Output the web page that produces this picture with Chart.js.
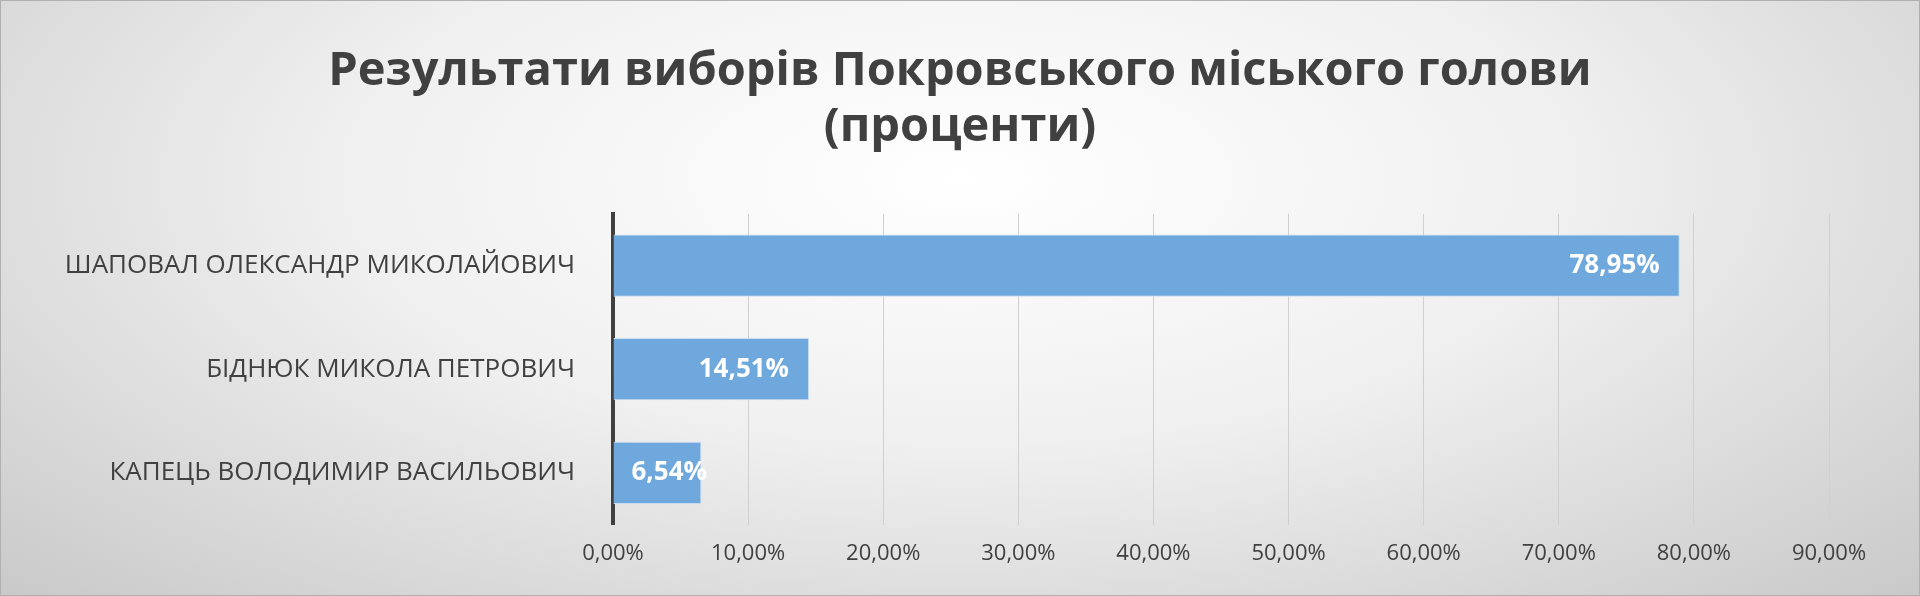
<!DOCTYPE html>
<html><head><meta charset="utf-8">
<script src="https://cdn.jsdelivr.net/npm/chart.js@4/dist/chart.umd.min.js"></script>
<style>
html,body{margin:0;padding:0;}
body{width:1920px;height:596px;background:radial-gradient(ellipse at 50% 30%,#ffffff 0%,#f0f0f0 45%,#c9c9c9 100%);}
#wrap{position:absolute;left:0;top:0;width:1918px;height:594px;border:1px solid #b0b0b0;}
</style></head>
<body><div id="wrap"><canvas id="c" width="1918" height="594"></canvas></div>
<script>
const candidates = ['ШАПОВАЛ ОЛЕКСАНДР МИКОЛАЙОВИЧ', 'БІДНЮК МИКОЛА ПЕТРОВИЧ', 'КАПЕЦЬ ВОЛОДИМИР ВАСИЛЬОВИЧ'];
const percents = [78.95, 14.51, 6.54];
const xTicks = [0, 10, 20, 30, 40, 50, 60, 70, 80, 90];

const fmt = v => v.toFixed(2).replace('.', ',') + '%';

const valueLabels = {
    id: 'valueLabels',
    afterDatasetsDraw(chart) {
        const ctx = chart.ctx;
        ctx.save();
        ctx.font = 'bold 26px "Open Sans"';
        ctx.fillStyle = '#ffffff';
        ctx.textBaseline = 'middle';
        chart.getDatasetMeta(0).data.forEach((bar, i) => {
            const t = fmt(percents[i]);
            const w = ctx.measureText(t).width;
            let x = bar.x - 20 - w;
            if (x < bar.base + 18) x = bar.base + 18;
            ctx.textAlign = 'left';
            ctx.fillText(t, x, bar.y);
        });
        ctx.restore();
    }
};

// center the title on the whole canvas, not just the padded area
const centerTitle = {
    id: 'centerTitle',
    afterLayout(chart) {
        const t = chart.titleBlock;
        t.left = 0; t.right = chart.width; t.width = chart.width;
    }
};

new Chart(document.getElementById('c'), {
    type: 'bar',
    data: {
        labels: candidates,
        datasets: [{ data: percents, backgroundColor: '#6fa8dc', borderColor: '#c9ddf0', borderWidth: 1, barPercentage: 0.6, categoryPercentage: 1 }]
    },
    options: {
        indexAxis: 'y', responsive: false, animation: false,
        layout: { padding: { left: 20, right: 90, top: 42, bottom: 12 } },
        plugins: {
            legend: { display: false }, tooltip: { enabled: false },
            title: { display: true, text: ['Результати виборів Покровського міського голови', '(проценти)'],
                font: { family: '"Open Sans"', size: 47, weight: 'bold' }, color: '#404040', lineHeight: 1.42, padding: { top: 0, bottom: 58 } }
        },
        scales: {
            x: { min: 0, max: 90, afterBuildTicks: a => { a.ticks = xTicks.map(v => ({ value: v })); },
                grid: { color: '#d0d0d0', drawTicks: false }, border: { display: false },
                ticks: { callback: v => fmt(v), color: '#404040', font: { family: '"Open Sans"', size: 22 }, padding: 16 } },
            y: { grid: { display: false }, border: { color: '#404040', width: 4 },
                afterFit: a => { a.width = 592; },
                ticks: { color: '#404040', font: { family: '"Open Sans"', size: 26 }, padding: 30 } }
        }
    },
    plugins: [valueLabels, centerTitle]
});
</script></body></html>
